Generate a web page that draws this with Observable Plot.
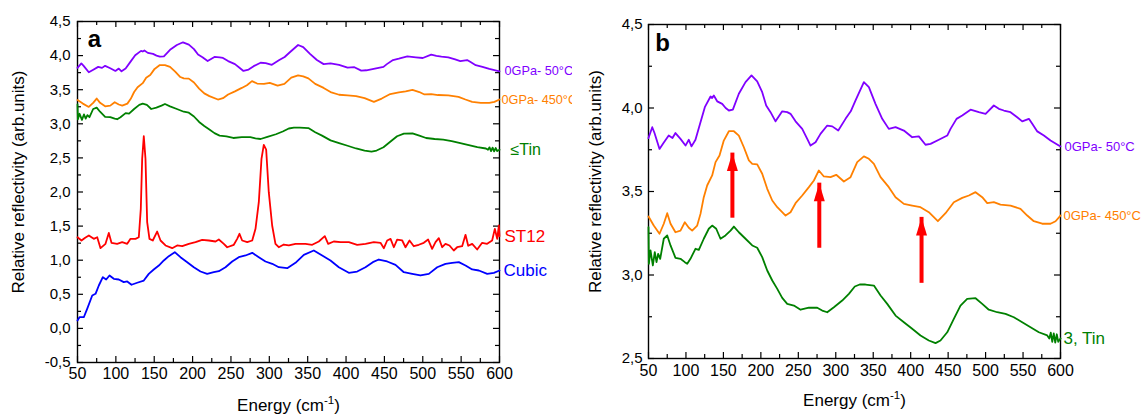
<!DOCTYPE html>
<html><head><meta charset="utf-8">
<script src="https://cdn.jsdelivr.net/npm/d3@7"></script>
<script src="https://cdn.jsdelivr.net/npm/@observablehq/plot@0.6"></script>
<style>
body{margin:0;background:#fff;}
#wrap{display:flex;width:1144px;height:414px;overflow:hidden;}
#wrap svg{display:block;flex:none;overflow:visible;}
</style></head><body><div id="wrap"></div>
<script>
// ---- tick values ----
const energyTicks = [50,100,150,200,250,300,350,400,450,500,550,600];
const energyMinor = [75,125,175,225,275,325,375,425,475,525,575];
const panelATicks = [-0.5,0,0.5,1,1.5,2,2.5,3,3.5,4,4.5];
const panelAMinor = [-0.25,0.25,0.75,1.25,1.75,2.25,2.75,3.25,3.75,4.25];
const panelBTicks = [2.5,3,3.5,4,4.5];
const panelBMinor = [2.75,3.25,3.75,4.25];

// ---- series: [energy (cm-1), relative reflectivity] ----
const violet50 = [[50,3.82],[55,3.885],[58,3.85],[64.7,3.755],[70,3.79],[77,3.835],[82,3.82],[86,3.85],[92.7,3.815],[99.4,3.775],[103.8,3.81],[107.4,3.77],[112.7,3.81],[119.4,3.915],[125.2,4.005],[132.8,4.069],[135,4.06],[137.2,4.075],[141.7,4.04],[148.4,4.025],[153,4.0],[157.3,3.985],[162.6,3.99],[170.6,4.085],[179.5,4.155],[187.5,4.195],[195.1,4.16],[201.8,4.095],[207.1,4.015],[212.9,3.975],[219.6,3.92],[228.5,3.98],[235.2,3.975],[239.6,3.965],[246.3,3.92],[255.2,3.875],[261.9,3.815],[266.3,3.775],[273,3.795],[279.6,3.845],[288.6,3.895],[295.3,3.89],[303.3,3.865],[313,3.935],[320,3.98],[326.4,4.045],[337.5,4.155],[344.2,4.125],[353,4.025],[362,3.935],[370.8,3.875],[379.8,3.885],[390.9,3.865],[402,3.825],[410.9,3.83],[419.8,3.78],[426.5,3.785],[437.6,3.81],[448.8,3.835],[453.2,3.875],[461.2,3.935],[468.8,3.955],[479.9,3.99],[491,3.975],[500,3.965],[511,4.015],[517.7,3.995],[524.4,3.985],[533.3,3.975],[542.2,3.945],[548.9,3.92],[557.8,3.935],[562.3,3.905],[569,3.86],[577.8,3.835],[586.7,3.805],[600,3.77]];
const orange450 = [[50,3.35],[57,3.296],[64.7,3.247],[70.4,3.307],[75,3.37],[79.4,3.307],[86,3.256],[92.7,3.266],[98.5,3.316],[103.8,3.283],[108.3,3.266],[115,3.296],[119.4,3.366],[123.8,3.466],[128.3,3.536],[135,3.596],[139.5,3.676],[144.8,3.716],[150.5,3.805],[157.3,3.861],[164,3.861],[170.6,3.835],[177.3,3.765],[184,3.686],[188.5,3.666],[195.1,3.662],[201.8,3.606],[208.5,3.516],[215.2,3.446],[221.9,3.406],[233,3.356],[239.6,3.376],[246.3,3.43],[255.2,3.476],[264.1,3.526],[270.8,3.566],[277.4,3.626],[284.1,3.59],[293,3.586],[300.6,3.6],[310.8,3.56],[319.7,3.586],[328.6,3.676],[337.5,3.71],[344.2,3.696],[350.9,3.666],[359.8,3.586],[370.8,3.526],[379.8,3.466],[390.9,3.426],[402,3.416],[413.1,3.406],[424.2,3.376],[436.3,3.322],[446.5,3.37],[457.6,3.436],[468.8,3.462],[477.7,3.476],[486.6,3.496],[495.5,3.466],[502.2,3.43],[511,3.436],[519.9,3.422],[533.3,3.416],[546.6,3.396],[555.6,3.356],[564.4,3.322],[575.6,3.307],[586.7,3.307],[593.4,3.322],[600,3.356]];
const greenTin = [[50,3.286],[50.5,3.067],[52.7,3.147],[55.8,3.057],[58.4,3.137],[60.7,3.077],[62.9,3.127],[65.6,3.097],[70.4,3.217],[75,3.237],[79.4,3.177],[86,3.103],[92.7,3.097],[98.5,3.077],[101.7,3.067],[106,3.097],[112.7,3.157],[117.2,3.15],[123.8,3.217],[130.5,3.277],[135,3.296],[140.4,3.277],[146.1,3.217],[152.8,3.237],[159.5,3.266],[164,3.29],[170.6,3.256],[179.5,3.217],[188.5,3.177],[195.1,3.163],[201.8,3.107],[208.5,3.027],[215.2,2.967],[221.9,2.917],[228.5,2.863],[235.2,2.827],[244.1,2.817],[253,2.792],[264.1,2.804],[275.2,2.804],[281.9,2.787],[288.6,2.777],[297.5,2.807],[308.6,2.847],[317.5,2.887],[325.4,2.931],[332,2.943],[339.7,2.943],[350.9,2.937],[359.8,2.877],[368.7,2.827],[379.8,2.757],[390.9,2.717],[402,2.678],[413.1,2.638],[424.2,2.608],[433.2,2.592],[439.8,2.608],[448.8,2.657],[457.6,2.737],[466.5,2.817],[475.4,2.857],[486.6,2.861],[495.5,2.827],[504.3,2.792],[515.5,2.777],[526.6,2.767],[537.7,2.747],[548.9,2.717],[560,2.687],[571.1,2.657],[582.3,2.638],[585,2.62],[587,2.655],[589,2.6],[591,2.65],[593,2.595],[595,2.645],[597,2.6],[600,2.62]];
const redST12 = [[50,1.337],[55.2,1.289],[60,1.33],[64.8,1.362],[71.2,1.313],[75.7,1.337],[80,1.176],[86.5,1.24],[90.8,1.4],[94.3,1.255],[101.7,1.24],[108.2,1.264],[114.8,1.24],[119.1,1.313],[125.6,1.313],[129.9,1.337],[132.5,1.753],[134.3,2.487],[136.4,2.818],[138.6,2.487],[140.8,1.557],[143.8,1.313],[148.1,1.289],[153.8,1.42],[158.2,1.289],[164.7,1.216],[173.4,1.176],[179.9,1.216],[186.5,1.205],[195.1,1.24],[203.8,1.264],[212.5,1.299],[221.2,1.289],[229.9,1.274],[234.2,1.303],[240.7,1.24],[245.1,1.19],[253.7,1.226],[258.1,1.313],[261.1,1.387],[264.6,1.289],[271.2,1.264],[277.7,1.289],[282,1.46],[286.3,1.85],[289.8,2.487],[292.8,2.69],[295.9,2.62],[299.3,1.997],[303.7,1.509],[308,1.24],[312.3,1.19],[318.9,1.23],[325.4,1.216],[334.1,1.24],[347.1,1.24],[355.9,1.226],[364.5,1.274],[372.3,1.352],[376.7,1.24],[384,1.274],[392.8,1.264],[403.6,1.264],[414.5,1.226],[425.4,1.24],[436.2,1.264],[444.9,1.255],[449.3,1.176],[453.6,1.289],[458,1.313],[462.3,1.19],[466.6,1.303],[473.2,1.289],[477.5,1.19],[482.7,1.289],[488.3,1.205],[494.8,1.226],[501.3,1.255],[507,1.303],[512.2,1.167],[516.6,1.264],[520.9,1.323],[525.3,1.19],[529.6,1.24],[534.8,1.216],[540.4,1.142],[544.8,1.19],[551.3,1.205],[555.7,1.372],[559.2,1.211],[564.4,1.24],[570.9,1.157],[577.4,1.255],[583.9,1.24],[590.4,1.289],[593.9,1.46],[597,1.313],[599.2,1.509],[600,1.35]];
const blueCubic = [[50,0.116],[52.6,0.164],[58.2,0.164],[62.6,0.287],[69.2,0.482],[73.5,0.507],[77.8,0.629],[83,0.751],[87.4,0.717],[91.7,0.776],[97.3,0.727],[103.8,0.717],[110.3,0.678],[114.8,0.688],[120.4,0.64],[127.8,0.669],[136.4,0.702],[142.9,0.8],[149.4,0.864],[156,0.922],[162.5,0.996],[169,1.059],[176.8,1.118],[184.2,1.044],[193,0.971],[201.6,0.897],[210.3,0.834],[219,0.8],[227.6,0.824],[234.2,0.839],[242.9,0.897],[251.6,0.981],[260.2,1.044],[269,1.069],[277.7,1.108],[286.3,1.044],[295,0.981],[303.8,0.947],[312.4,0.897],[323.3,0.883],[334.1,0.961],[345,1.079],[358,1.142],[368.9,1.069],[379.7,0.996],[390.6,0.897],[403.6,0.815],[414.5,0.834],[425.3,0.897],[434.9,0.971],[442.7,1.01],[453.6,0.981],[464.5,0.932],[475.3,0.824],[486.2,0.8],[497,0.776],[507.9,0.8],[518.8,0.897],[529.6,0.947],[538.3,0.961],[547,0.971],[555.7,0.922],[564.4,0.864],[573.1,0.849],[584,0.8],[592.7,0.815],[600,0.849]];

// ---- arrows in panel b ----
const arrowEnergy = [162, 278, 414.5];
const arrowFrom = [3.40, 3.22, 3.01];
const arrowTo = [3.73, 3.55, 3.345];

const C = {violet:"#8000FF", orange:"#FF8000", green:"#008000", red:"#FF0000", blue:"#0000FF"};
const arrows = arrowEnergy.map((x,i)=>({x, from: arrowFrom[i], to: arrowTo[i]}));
const fmt = d => d.toFixed(1).replace(".", ",");
const arrowHead = {draw(ctx){ctx.moveTo(0,0);ctx.lineTo(5.5,18);ctx.lineTo(-5.5,18);ctx.closePath();}};
const X_TITLE = "Energy (cm-1)";

function panel(o){
  const W = 572, H = 414;
  const pw = W - o.ml - o.mr, ph = H - o.mt - o.mb;
  const marks = [
    Plot.frame({stroke:"#000", strokeWidth:1.4}),
    Plot.tickX(energyTicks, {insetTop: ph-6, strokeWidth:1.2}),
    Plot.tickX(energyTicks, {insetBottom: ph-6, strokeWidth:1.2}),
    Plot.tickX(energyMinor, {insetTop: ph-4, strokeWidth:1.2}),
    Plot.tickX(energyMinor, {insetBottom: ph-4, strokeWidth:1.2}),
    Plot.tickY(o.yTicks, {insetRight: pw-6, strokeWidth:1.2}),
    Plot.tickY(o.yTicks, {insetLeft: pw-6, strokeWidth:1.2}),
    Plot.tickY(o.yMinor, {insetRight: pw-4, strokeWidth:1.2}),
    Plot.tickY(o.yMinor, {insetLeft: pw-4, strokeWidth:1.2}),
    Plot.axisX({ticks: energyTicks, tickSize:0, tickPadding:o.xPad, tickFormat:d=>String(d), fontSize:16, label:null}),
    Plot.axisY({ticks: o.yTicks, tickSize:0, tickPadding:o.yPad, tickFormat:fmt, fontSize:15, label:null}),
    Plot.text([X_TITLE], {frameAnchor:"bottom", lineAnchor:"middle", textAnchor:"middle", dy:o.xtDy, fontSize:17}),
    Plot.text(["Relative reflectivity (arb.units)"], {frameAnchor:"left", rotate:-90, textAnchor:"middle", lineAnchor:"middle", dx:o.ytDx, dy:-10, fontSize:17}),
    Plot.text([o.letter], {frameAnchor:"top-left", textAnchor:"middle", lineAnchor:"middle", dx:o.letterDx, dy:o.letterDy, fontSize:24, fontWeight:"bold"})
  ];
  for (const s of o.series) {
    marks.push(Plot.line(s.data, {x:d=>d[0], y:d=>d[1], stroke:s.color, strokeWidth:1.8}));
    marks.push(Plot.text(s.data, Plot.selectLast({x:d=>d[0], y:d=>d[1], text:()=>s.label, fill:s.color, textAnchor:"start", lineAnchor:"middle", dx:s.dx, fontSize:s.size})));
  }
  if (o.arrows) {
    marks.push(Plot.ruleX(arrows, {x:"x", y1:"from", y2:"to", stroke:C.red, strokeWidth:4, insetTop:10}));
    marks.push(Plot.dot(arrows, {x:"x", y:"to", symbol:arrowHead, fill:C.red, stroke:"none", r:4}));
  }
  const svg = Plot.plot({
    width:W, height:H, marginLeft:o.ml, marginRight:o.mr, marginTop:o.mt, marginBottom:o.mb,
    x:{domain:[50,600]}, y:{domain:o.yDomain},
    style:{fontFamily:"'Liberation Sans', Arial, sans-serif", color:"#000", background:"#fff", overflow:"visible"},
    marks
  });
  // superscript the "-1" of cm-1
  svg.querySelectorAll("text").forEach(t => {
    if (t.textContent === X_TITLE) {
      t.textContent = "Energy (cm";
      const sup = document.createElementNS("http://www.w3.org/2000/svg", "tspan");
      sup.setAttribute("dy", "-7"); sup.setAttribute("font-size", "11.5"); sup.textContent = "-1";
      const close = document.createElementNS("http://www.w3.org/2000/svg", "tspan");
      close.setAttribute("dy", "7"); close.setAttribute("font-size", "17"); close.textContent = ")";
      t.append(sup, close);
    }
  });
  return svg;
}

const wrap = document.getElementById("wrap");
wrap.append(panel({
  letter:"a", ml:77, mr:73, mt:21, mb:52, xPad:5, yPad:7, xtDy:43, ytDx:-59, letterDx:17, letterDy:18,
  yDomain:[-0.5,4.5], yTicks:panelATicks, yMinor:panelAMinor,
  series:[
    {data:violet50, color:C.violet, label:"0GPa- 50\u00B0C", dx:5, size:12.7},
    {data:orange450, color:C.orange, label:"0GPa- 450\u00B0C", dx:2, size:12.7},
    {data:greenTin, color:C.green, label:"\u2264Tin", dx:11, size:16},
    {data:redST12, color:C.red, label:"ST12", dx:5, size:17},
    {data:blueCubic, color:C.blue, label:"Cubic", dx:4, size:17}
  ]
}));
wrap.append(panel({
  letter:"b", ml:76, mr:84, mt:24, mb:56, xPad:6, yPad:6, xtDy:42, ytDx:-53, letterDx:14, letterDy:19,
  yDomain:[2.5,4.5], yTicks:panelBTicks, yMinor:panelBMinor, arrows:true,
  series:[
    {data:violet50, color:C.violet, label:"0GPa- 50\u00B0C", dx:4, size:13},
    {data:orange450, color:C.orange, label:"0GPa- 450\u00B0C", dx:3, size:13},
    {data:greenTin, color:C.green, label:"3, Tin", dx:3, size:17}
  ]
}));
</script></body></html>
